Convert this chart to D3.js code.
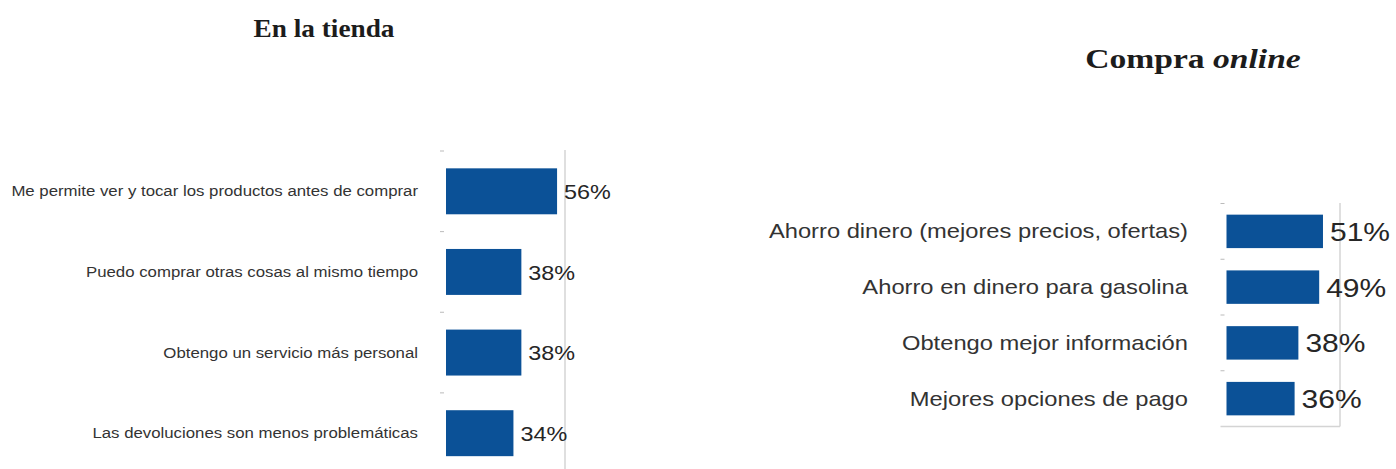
<!DOCTYPE html>
<html><head><meta charset="utf-8">
<script src="https://cdn.jsdelivr.net/npm/d3@7"></script>
<style>body{margin:0;background:#fff}svg{display:block}</style>
</head><body>
<script>
const storeCategories = [
  "Me permite ver y tocar los productos antes de comprar",
  "Puedo comprar otras cosas al mismo tiempo",
  "Obtengo un servicio más personal",
  "Las devoluciones son menos problemáticas"
];
const storeValues = [56, 38, 38, 34];
const onlineCategories = [
  "Ahorro dinero (mejores precios, ofertas)",
  "Ahorro en dinero para gasolina",
  "Obtengo mejor información",
  "Mejores opciones de pago"
];
const onlineValues = [51, 49, 38, 36];
const axisDomain = [0, 60];

const W = 1396, H = 469;
const svg = d3.select("body").append("svg").attr("width", W).attr("height", H);
const BLUE = "#0b5197";

function panel(cfg) {
  const g = svg.append("g");
  const x = d3.scaleLinear().domain(axisDomain).range([cfg.x0, cfg.x1]);
  const y = d3.scaleBand().domain(cfg.cats).range([cfg.y0, cfg.y1])
    .paddingInner(cfg.pad).paddingOuter(cfg.pad / 2);
  const step = y.step();
  const top = y.range()[0];
  g.append("line").attr("x1", x(axisDomain[1])).attr("x2", x(axisDomain[1]))
    .attr("y1", cfg.gridTop).attr("y2", cfg.y1)
    .attr("stroke", "#d4d4d4").attr("stroke-width", 1.5);
  if (cfg.bottomLine) {
    g.append("line").attr("x1", cfg.x0 - 6).attr("x2", x(axisDomain[1]))
      .attr("y1", cfg.y1).attr("y2", cfg.y1)
      .attr("stroke", "#d4d4d4").attr("stroke-width", 1.5);
  }
  d3.range(cfg.cats.length).forEach(i => {
    g.append("line").attr("x1", cfg.x0 - 6).attr("x2", cfg.x0 - 2)
      .attr("y1", top + i * step).attr("y2", top + i * step)
      .attr("stroke", "#bbb").attr("stroke-width", 1);
  });
  const data = cfg.cats.map((c, i) => ({c, v: cfg.vals[i]}));
  g.selectAll("rect").data(data).join("rect")
    .attr("x", x(0)).attr("y", d => y(d.c))
    .attr("width", d => x(d.v) - x(0)).attr("height", y.bandwidth())
    .attr("fill", BLUE);
  g.selectAll("text.cat").data(data).join("text").attr("class", "cat")
    .attr("transform", d => `translate(${cfg.labelX},${y(d.c) + y.bandwidth() / 2}) scale(${cfg.labelSx},1)`)
    .attr("text-anchor", "end").attr("dominant-baseline", "central")
    .attr("font-family", "Liberation Sans, Arial, sans-serif")
    .attr("font-size", cfg.labelSize).attr("fill", "#333")
    .text(d => d.c);
  g.selectAll("text.val").data(data).join("text").attr("class", "val")
    .attr("transform", d => `translate(${x(d.v) + cfg.valGap},${y(d.c) + y.bandwidth() / 2 + 1}) scale(${cfg.valSx},1)`)
    .attr("dominant-baseline", "central")
    .attr("font-family", "Liberation Sans, Arial, sans-serif")
    .attr("font-size", cfg.valSize).attr("fill", "#262626")
    .text(d => d.v + "%");
}

panel({cats: storeCategories, vals: storeValues, x0: 446, x1: 565, y0: 151, y1: 473.5,
  pad: 0.43, gridTop: 150, bottomLine: false, labelX: 418, labelSx: 1.12, labelSize: 15,
  valGap: 7, valSx: 1.17, valSize: 20});
panel({cats: onlineCategories, vals: onlineValues, x0: 1226.5, x1: 1340, y0: 203.5, y1: 426.5,
  pad: 0.4, gridTop: 203, bottomLine: true, labelX: 1188, labelSx: 1.13, labelSize: 21,
  valGap: 7, valSx: 1.2, valSize: 25});

svg.append("text").attr("transform", "translate(324,37) scale(1.05,1)").attr("text-anchor", "middle")
  .attr("font-family", "Liberation Serif, serif").attr("font-weight", "bold")
  .attr("font-size", 26).attr("fill", "#1c1c1c").text("En la tienda");
const t2 = svg.append("text").attr("transform", "translate(1193,68) scale(1.2,1)").attr("text-anchor", "middle")
  .attr("font-family", "Liberation Serif, serif").attr("font-weight", "bold")
  .attr("font-size", 28).attr("fill", "#1c1c1c");
t2.append("tspan").text("Compra ");
t2.append("tspan").attr("font-style", "italic").text("online");
</script>
</body></html>
